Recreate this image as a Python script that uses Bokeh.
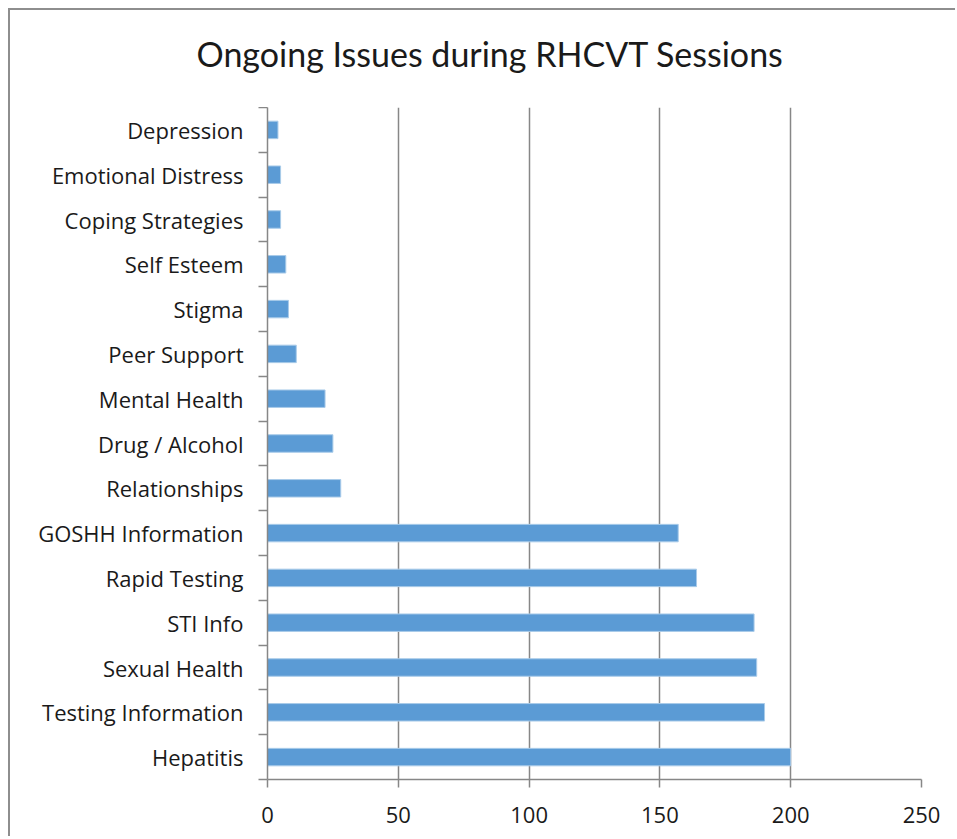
from bokeh.plotting import figure
from bokeh.models import FixedTicker, Range1d
from bokeh.layouts import column
from bokeh.embed import file_html
from bokeh.resources import INLINE

title_text = "Ongoing Issues during RHCVT Sessions"
categories = ["Hepatitis", "Testing Information", "Sexual Health", "STI Info",
              "Rapid Testing", "GOSHH Information", "Relationships", "Drug / Alcohol",
              "Mental Health", "Peer Support", "Stigma", "Self Esteem",
              "Coping Strategies", "Emotional Distress", "Depression"]
values = [200, 190, 187, 186, 164, 157, 28, 25, 22, 11, 8, 7, 5, 5, 4]
x_ticks = [0, 50, 100, 150, 200, 250]

n = len(categories)
ys = [i + 0.5 for i in range(n)]
TITLE_FONT = "Lato"
FONT = "Open Sans"
W = 945
TITLE_H = 97
MB_LEFT = 257
MB_RIGHT = 34

# ---- title strip: a figure whose only visible content is its title
t = figure(width=W, height=TITLE_H, output_backend="svg", toolbar_location=None,
           x_range=Range1d(0, 1), y_range=Range1d(0, 1),
           x_axis_type=None, y_axis_type=None, title=title_text)
t.min_border_left = MB_LEFT
t.min_border_right = MB_RIGHT
t.min_border_top = 0
t.min_border_bottom = 0
t.outline_line_color = None
t.grid.visible = False
t.title.text_font = TITLE_FONT
t.title.text_font_size = "34px"
t.title.text_font_style = "normal"
t.title.text_color = "#1a1a1a"
t.title.align = "left"
t.title.offset = -71
t.title.standoff = 41

# ---- bar chart
p = figure(width=W, height=729, output_backend="svg", toolbar_location=None,
           x_range=Range1d(x_ticks[0], x_ticks[-1]), y_range=Range1d(0, n))
p.min_border_left = MB_LEFT
p.min_border_right = MB_RIGHT
p.min_border_top = 0
p.min_border_bottom = 57

p.hbar(y=ys, left=0, right=values, height=0.39,
       fill_color="#5b9bd5", line_color="#a9cbe9", line_width=1)

p.outline_line_color = None
p.ygrid.visible = False
p.xgrid.ticker = FixedTicker(ticks=x_ticks)
p.xgrid.grid_line_color = "#878787"
p.xgrid.grid_line_width = 1.5

ax = p.xaxis[0]
ax.ticker = FixedTicker(ticks=x_ticks)
ax.axis_line_color = "#878787"
ax.axis_line_width = 1.5
ax.major_tick_line_color = "#878787"
ax.major_tick_line_width = 1.5
ax.major_tick_out = 8
ax.major_tick_in = 0
ax.minor_tick_out = 0
ax.minor_tick_in = 0
ax.major_label_text_font = FONT
ax.major_label_text_font_size = "22px"
ax.major_label_text_color = "#1a1a1a"
ax.major_label_standoff = 19

ay = p.yaxis[0]
ay.ticker = FixedTicker(ticks=ys, minor_ticks=list(range(n + 1)))
ay.major_label_overrides = {y: c for y, c in zip(ys, categories)}
ay.axis_line_color = "#878787"
ay.axis_line_width = 1.5
ay.major_tick_out = 0
ay.major_tick_in = 0
ay.minor_tick_out = 9
ay.minor_tick_in = 0
ay.minor_tick_line_color = "#878787"
ay.minor_tick_line_width = 1.5
ay.major_label_text_font = FONT
ay.major_label_text_font_size = "22px"
ay.major_label_text_color = "#1a1a1a"
ay.major_label_standoff = 15

layout = column(t, p, spacing=0,
                styles={"border-top": "2px solid #8e8e8e", "border-left": "2px solid #8e8e8e",
                        "margin-left": "8px", "margin-top": "8px"})

open("out.html", "w").write(file_html(layout, INLINE))
